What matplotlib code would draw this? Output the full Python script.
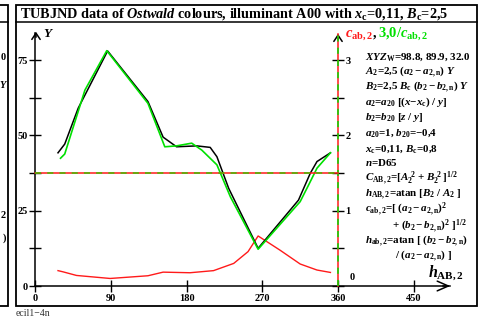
import matplotlib
matplotlib.use('Agg')
import matplotlib.pyplot as plt
from matplotlib.patches import Rectangle
from matplotlib.lines import Line2D

# ---------------- data ----------------
black_h = [27, 35, 51, 86, 134, 152, 168, 192, 208, 216, 230, 265, 313, 327, 335, 351]
black_Y = [44.2, 47.1, 59.0, 78.0, 61.2, 49.4, 46.2, 46.5, 46.0, 42.9, 32.4, 12.5, 28.5, 37.4, 41.3, 44.2]

green_h = [30, 35, 59, 85, 134, 154, 168, 186, 198, 216, 232, 265, 315, 325, 335, 351]
green_Y = [42.4, 43.8, 65.0, 78.1, 60.6, 46.2, 46.5, 47.4, 45.1, 40.2, 29.6, 12.2, 28.0, 33.5, 39.1, 44.2]

red_h = [27, 33, 49, 89, 134, 152, 184, 212, 236, 253, 265, 291, 315, 335, 351]
red_Y = [5.1, 4.7, 3.5, 2.5, 3.4, 4.6, 4.4, 5.1, 7.5, 11.4, 16.6, 11.9, 7.3, 5.3, 4.5]

ref_level = 1.5          # right-axis value of the dashed horizontal line
x_ticks = [0, 90, 180, 270, 360, 450]
x_labels = ['0', '90', '180', '270', '360', '450']
y_ticks = [0, 12.5, 25, 37.5, 50, 62.5, 75]
y_labels = ['0', '', '25', '', '50', '', '75']
r_ticks = [0, 0.5, 1, 1.5, 2, 2.5, 3]
r_labels = ['', '', '1', '', '2', '', '3']

title = (r"TUBJND data of $\mathit{Ostwald}$ colours, illuminant A00 with "
         r"$x_\mathrm{c}$=0,11, $B_\mathrm{c}$=2,5")

info_lines = [
    r"$XYZ_\mathrm{W}$=98.8, 89.9, 32.0",
    r"$A_2$=2,5 ($a_2 - a_{2,\mathrm{n}}$) $Y$",
    r"$B_2$=2,5 $B_\mathrm{c}$ ($b_2 - b_{2,\mathrm{n}}$) $Y$",
    r"$a_2$=$a_{20}$ [($x$−$x_\mathrm{c}$) / $y$]",
    r"$b_2$=$b_{20}$ [$z$ / $y$]",
    r"$a_{20}$=1, $b_{20}$=−0,4",
    r"$x_\mathrm{c}$=0,11, $B_\mathrm{c}$=0,8",
    r"$n$=D65",
    r"$C_{\mathrm{AB,2}}$=[$A_2^{\ 2}$ + $B_2^{\ 2}$ ]$^{1/2}$",
    r"$h_{\mathrm{AB,2}}$=atan [$B_2$ / $A_2$ ]",
    r"$c_{\mathrm{ab,2}}$=[ ($a_2 - a_{2,\mathrm{n}}$)$^2$",
    r"+ ($b_2 - b_{2,\mathrm{n}}$)$^2$ ]$^{1/2}$",
    r"$h_{\mathrm{ab,2}}$=atan [ ($b_2 - b_{2,\mathrm{n}}$)",
    r"/ ($a_2 - a_{2,\mathrm{n}}$) ]",
]
info_x = [365, 365, 365, 365, 365, 365, 365, 365, 365, 365, 365, 392, 365, 395]
info_dy = [0, 0, 0, 0, 0, 0, 0, 0, 0, 0, 0, 1.0, 1.0, 1.0]

# ---------------- style ----------------
plt.rcParams['font.family'] = ['Liberation Serif', 'DejaVu Serif']
plt.rcParams['font.weight'] = 'bold'
plt.rcParams['mathtext.fontset'] = 'custom'
plt.rcParams['mathtext.rm'] = 'Liberation Serif:bold'
plt.rcParams['mathtext.it'] = 'Liberation Serif:italic:bold'
plt.rcParams['mathtext.bf'] = 'Liberation Serif:bold'

RED = '#ff1a1a'
GREEN = '#00e000'

W, H = 479, 317
fig = plt.figure(figsize=(W / 100, H / 100), dpi=100)
ax = fig.add_axes([0, 0, 1, 1])
ax.patch.set_visible(False)

X0PX, XS = 35.3, 302.7 / 360
Y0PX, YS = 286.0, 226.0 / 75
ax.set_xlim((0 - X0PX) / XS, (W - X0PX) / XS)
ax.set_ylim((Y0PX - H) / YS, Y0PX / YS)


def d(px, py):
    return ((px - X0PX) / XS, (Y0PX - py) / YS)


def fx(px):
    return px / W


def fy(py):
    return 1 - py / H


# frames
fig.add_artist(Rectangle((fx(16), fy(306)), (477 - 16) / W, (306 - 5) / H,
                         transform=fig.transFigure, fill=False, lw=1.3, ec='black'))
fig.add_artist(Line2D([fx(16), fx(477)], [fy(22), fy(22)], transform=fig.transFigure,
                      lw=1.1, color='black'))
fig.add_artist(Rectangle((fx(-20), fy(306)), 28 / W, (306 - 5) / H,
                         transform=fig.transFigure, fill=False, lw=1.3, ec='black'))
fig.add_artist(Line2D([fx(0), fx(8)], [fy(22), fy(22)], transform=fig.transFigure,
                      lw=1.1, color='black'))

# left panel fragments
for txt, py, st in [('0', 57, 'normal'), ('Y', 86, 'italic'), ('2', 216, 'normal'), (')', 238, 'normal')]:
    fig.text(fx(6), fy(py), txt, ha='right', va='center', fontsize=7.5,
             fontweight='bold', fontstyle=st)

fig.text(fx(20), fy(18), title, ha='left', va='baseline', fontsize=10.3, fontweight='bold')
fig.text(fx(16), fy(316), 'ecil1\u22124n', ha='left', va='baseline', fontsize=7,
         fontweight='normal', color='#333333')

# axes spines
for s in ['top', 'right']:
    ax.spines[s].set_visible(False)
ax.spines['left'].set_position(('data', 0))
ax.spines['bottom'].set_position(('data', 0))
ax.spines['left'].set_bounds(0, d(0, 33)[1])
ax.spines['bottom'].set_bounds(0, d(450, 0)[0])
ax.spines['left'].set_linewidth(1.1)
ax.spines['bottom'].set_linewidth(1.1)
ax.set_xticks(x_ticks)
ax.set_xticklabels(x_labels)
ax.set_yticks(y_ticks)
ax.set_yticklabels(y_labels)
ax.tick_params(direction='inout', length=9, width=1, labelsize=7.5, pad=1)
for lab in ax.get_xticklabels() + ax.get_yticklabels():
    lab.set_fontweight('bold')

# arrows
ax.annotate('', xy=d(453, 286), xytext=d(440, 286),
            arrowprops=dict(arrowstyle='->,head_length=0.8,head_width=0.35', lw=1.1, color='black'),
            annotation_clip=False)
ax.annotate('', xy=d(36, 29), xytext=d(36, 40),
            arrowprops=dict(arrowstyle='->,head_length=0.45,head_width=0.3', lw=1.1, color='black'),
            annotation_clip=False)
ax.annotate('', xy=d(338, 31), xytext=d(338, 42),
            arrowprops=dict(arrowstyle='->,head_length=0.45,head_width=0.3', lw=1.1, color='black'),
            annotation_clip=False)

ax.text(*d(43, 37), '$Y$', ha='left', va='baseline', fontsize=9.5)

# curves
ax.plot(red_h, red_Y, color=RED, lw=1.0, zorder=4)
ax.plot(black_h, black_Y, color='black', lw=1.1, zorder=5)
ax.plot(green_h, green_Y, color=GREEN, lw=1.2, zorder=6)

# right axis
ax2 = ax.twinx()
ax2.set_ylim(ax.get_ylim()[0] / 25, ax.get_ylim()[1] / 25)
for s in ['top', 'left', 'bottom']:
    ax2.spines[s].set_visible(False)
ax2.spines['right'].set_position(('data', 360))
ax2.spines['right'].set_bounds(0, d(0, 34)[1] / 25)
ax2.spines['right'].set_color(RED)
ax2.spines['right'].set_linewidth(1.1)
ax2.set_yticks(r_ticks)
ax2.set_yticklabels(r_labels)
ax2.tick_params(direction='inout', length=9, width=1, labelsize=7.5, pad=1, color='black')
for lab in ax2.get_yticklabels():
    lab.set_fontweight('bold')
ax2.plot([360, 360], [0, d(0, 34)[1] / 25], color=GREEN, lw=1.1, dashes=(4, 4), zorder=3)

# horizontal reference line
ax2.plot([0, 360], [ref_level, ref_level], color=RED, lw=1.1, zorder=3)
ax2.plot([0, 360], [ref_level, ref_level], color='#40c000', lw=1.1, dashes=(4, 4), zorder=3.1)

ax.text(*d(350, 280), '0', ha='left', va='baseline', fontsize=7.5, fontweight='bold')

# right axis label
ax.text(*d(345, 37), r'$c_{\mathrm{ab,2}}$', color=RED, ha='left', va='baseline', fontsize=10.5)
ax.text(*d(373, 37), ',', color='black', ha='left', va='baseline', fontsize=10.5)
ax.text(*d(378, 37), r'3,0/$c_{\mathrm{ab,2}}$', color=GREEN, ha='left', va='baseline', fontsize=10.5)

# info text
for i, (txt, px, dy) in enumerate(zip(info_lines, info_x, info_dy)):
    ax.text(*d(px, 59.3 + 15.3 * i + dy), txt, ha='left', va='baseline', fontsize=7.9)

ax.text(*d(428, 276), r'$h_{\mathrm{AB,2}}$', ha='left', va='baseline', fontsize=11.5)

fig.savefig('out.png', dpi=100)
